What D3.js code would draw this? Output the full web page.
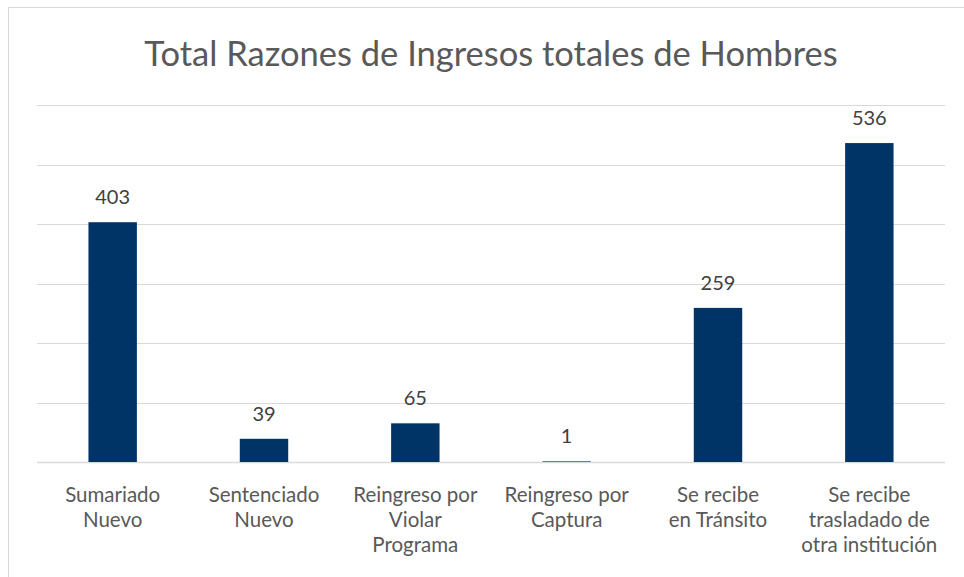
<!DOCTYPE html>
<html>
<head>
<meta charset="utf-8">
<script src="https://cdn.jsdelivr.net/npm/d3@7"></script>
<style>
  html, body { margin: 0; padding: 0; background: #fff; }
  svg { display: block; font-family: Lato, "Open Sans", sans-serif; }
</style>
</head>
<body>
<div id="chart"></div>
<script>
const categories = [
  ["Sumariado", "Nuevo"],
  ["Sentenciado", "Nuevo"],
  ["Reingreso por", "Violar", "Programa"],
  ["Reingreso por", "Captura"],
  ["Se recibe", "en Tránsito"],
  ["Se recibe", "trasladado de", "otra institución"],
];
const values = [403, 39, 65, 1, 259, 536];
const yTicks = [0, 100, 200, 300, 400, 500, 600];
const title = "Total Razones de Ingresos totales de Hombres";

const width = 964;
const height = 577;
const marginTop = 105;
const marginRight = 19;
const marginBottom = 115;
const marginLeft = 37;

const svg = d3.select("#chart")
  .append("svg")
  .attr("width", width)
  .attr("height", height)
  .attr("viewBox", [0, 0, width, height]);

// chart frame
svg.append("rect")
  .attr("x", 8.5)
  .attr("y", 7.5)
  .attr("width", width + 20)
  .attr("height", height + 20)
  .attr("fill", "#fff")
  .attr("stroke", "#d9d9d9");

const x = d3.scaleBand()
  .domain(d3.range(values.length))
  .range([marginLeft, width - marginRight])
  .paddingInner(0.68)
  .paddingOuter(0.34);

const y = d3.scaleLinear()
  .domain([0, 600])
  .range([height - marginBottom, marginTop]);

svg.append("text")
  .attr("x", 491)
  .attr("y", 66)
  .attr("text-anchor", "middle")
  .attr("fill", "#595959")
  .attr("font-size", 34.5)
  .text(title);

// gridlines
svg.append("g")
  .selectAll("line")
  .data(yTicks)
  .join("line")
  .attr("x1", marginLeft)
  .attr("x2", width - marginRight)
  .attr("y1", (d) => Math.round(y(d)) + 0.5)
  .attr("y2", (d) => Math.round(y(d)) + 0.5)
  .attr("stroke", "#d9d9d9")
  .attr("stroke-width", (d) => (d === 0 ? 1.5 : 1));

svg.append("g")
  .selectAll("rect")
  .data(values)
  .join("rect")
  .attr("x", (d, i) => x(i))
  .attr("y", (d) => y(d))
  .attr("width", x.bandwidth())
  .attr("height", (d) => y(0) - y(d))
  .attr("fill", "#003366");

svg.append("g")
  .selectAll("text")
  .data(values)
  .join("text")
  .attr("x", (d, i) => x(i) + x.bandwidth() / 2)
  .attr("y", (d) => y(d) - 18)
  .attr("text-anchor", "middle")
  .attr("fill", "#404040")
  .attr("font-size", 20)
  .text((d) => d);

const labels = svg.append("g")
  .selectAll("text")
  .data(categories)
  .join("text")
  .attr("x", (d, i) => x(i) + x.bandwidth() / 2)
  .attr("y", y(0) + 40)
  .attr("text-anchor", "middle")
  .attr("fill", "#595959")
  .attr("font-size", 20.5);

labels.selectAll("tspan")
  .data((d) => d)
  .join("tspan")
  .attr("x", function () { return this.parentNode.getAttribute("x"); })
  .attr("dy", (d, i) => (i ? 25 : 0))
  .text((d) => d);
</script>
</body>
</html>
